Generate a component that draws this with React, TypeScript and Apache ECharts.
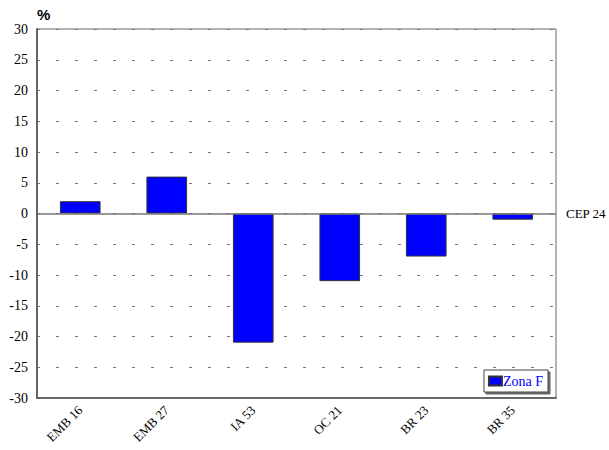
import React, { useEffect, useRef } from "react";
import * as echarts from "echarts";

const categories = ["EMB 16", "EMB 27", "IA 53", "OC 21", "BR 23", "BR 35"];
const zonaF = [2, 6, -21, -11, -7, -1];
const seriesName = "Zona F";
const refLabel = "CEP 24";
const unitLabel = "%";

export default function App() {
  const ref = useRef<HTMLDivElement>(null);
  useEffect(() => {
    const chart = echarts.init(ref.current!, null, { renderer: "svg" });
    chart.setOption({
      animation: false,
      backgroundColor: "#fff",
      grid: {
        left: 37,
        right: 53,
        top: 29,
        bottom: 52,
        show: true,
        borderColor: "#666",
        borderWidth: 1,
        backgroundColor: "transparent",
      },
      graphic: [
        {
          type: "text",
          left: 37,
          top: 7,
          style: { text: unitLabel, font: "bold 15px Arial, 'Liberation Sans', sans-serif", fill: "#000" },
        },
      ],
      legend: {
        right: 61,
        bottom: 58,
        orient: "vertical",
        backgroundColor: "#fff",
        borderColor: "#444",
        borderWidth: 1,
        padding: [4, 5, 4, 4],
        shadowColor: "rgba(0,0,0,0.6)",
        shadowBlur: 0,
        shadowOffsetX: 2,
        shadowOffsetY: 2,
        itemWidth: 13,
        itemHeight: 9,
        itemGap: 2,
        icon: "rect",
        textStyle: { color: "#0000ff", fontFamily: "'Liberation Serif', 'Times New Roman', serif", fontSize: 14, padding: [0, 0, 0, -4] },
        data: [seriesName],
      },
      xAxis: {
        type: "category",
        data: categories,
        position: "bottom",
        axisLine: { show: true, onZero: false, lineStyle: { color: "#666", width: 2 } },
        axisTick: { show: false },
        axisLabel: {
          rotate: 45,
          margin: 10,
          color: "#000",
          fontFamily: "'Liberation Serif', 'Times New Roman', serif",
          fontSize: 13,
        },
      },
      yAxis: {
        type: "value",
        min: -30,
        max: 30,
        interval: 5,
        axisLine: { show: true, lineStyle: { color: "#666", width: 2 } },
        axisTick: { show: false },
        axisLabel: {
          margin: 9,
          color: "#000",
          fontFamily: "'Liberation Serif', 'Times New Roman', serif",
          fontSize: 14,
        },
        splitLine: { show: true, lineStyle: { color: "#777", type: [3, 16], width: 1 } },
      },
      series: [
        {
          name: seriesName,
          type: "bar",
          data: zonaF,
          barWidth: "47%",
          itemStyle: { color: "#0000ff", borderColor: "#333", borderWidth: 1 },
          markLine: {
            silent: true,
            symbol: "none",
            lineStyle: { color: "#777", type: "solid", width: 1.5 },
            label: {
              show: true,
              position: "end",
              formatter: refLabel,
              color: "#000",
              distance: 10,
              fontFamily: "'Liberation Serif', 'Times New Roman', serif",
              fontSize: 13,
            },
            data: [{ yAxis: 0 }],
          },
        },
      ],
    });
    return () => chart.dispose();
  }, []);
  return <div ref={ref} style={{ width: 609, height: 450, position: "absolute", left: 0, top: 0 }} />;
}
